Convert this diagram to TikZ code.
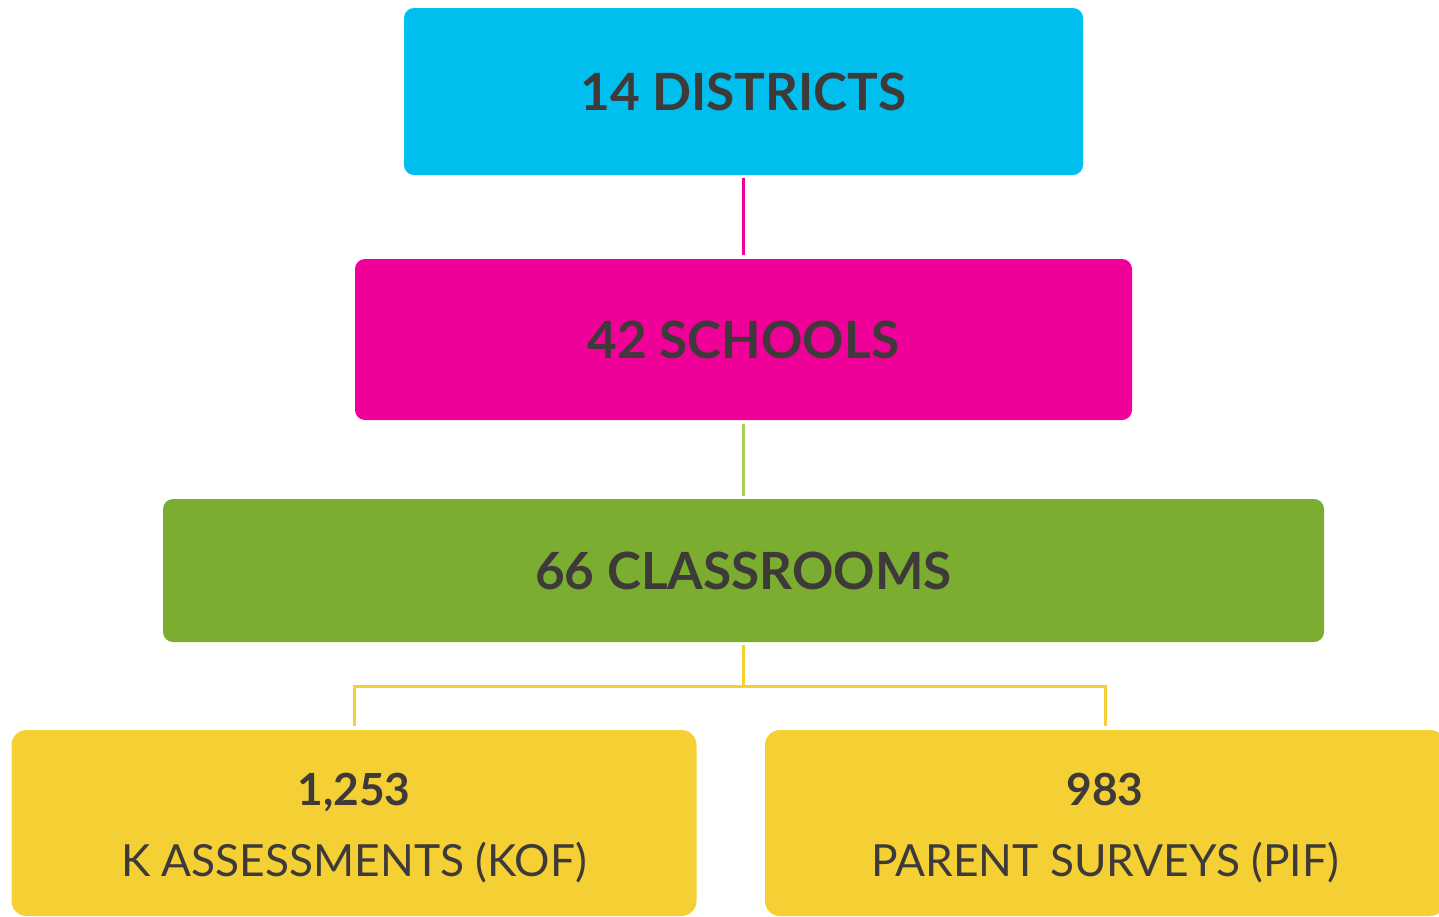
\documentclass[tikz,border=0pt]{standalone}
\usepackage{fontspec}
\setmainfont{Lato}
\usepackage{xcolor}
\usetikzlibrary{positioning, calc}
\definecolor{districtcyan}{RGB}{0,191,239}
\definecolor{schoolpink}{RGB}{238,0,153}
\definecolor{classgreen}{RGB}{123,174,48}
\definecolor{linkgreen}{RGB}{166,208,90}
\definecolor{dataamber}{RGB}{245,208,52}
\definecolor{textgray}{RGB}{62,58,58}

\begin{document}
\begin{tikzpicture}[
    tier/.style={fill=#1, rounded corners=0.2cm, inner sep=0pt, text=textgray, font=\fontsize{29.2}{34}\selectfont\bfseries},
    count/.style={fill=dataamber, rounded corners=0.3cm, inner sep=0pt, text=textgray, align=center, minimum width=13.7cm, minimum height=3.72cm, font=\fontsize{25.2}{40}\selectfont},
    link/.style={draw=#1, line width=0.06cm, shorten <=0.06cm, shorten >=0.08cm}
]
    \useasboundingbox (0,0) rectangle (28.78,-18.32);

    % Tiers
    \node[tier=districtcyan, minimum width=13.58cm, minimum height=3.34cm] (districts) at (14.87,-1.83) {14 DISTRICTS};
    \node[tier=schoolpink, minimum width=15.54cm, minimum height=3.22cm] (schools) at (14.87,-6.79) {42 SCHOOLS};
    \node[tier=classgreen, minimum width=23.22cm, minimum height=2.86cm] (classrooms) at (14.87,-11.41) {66 CLASSROOMS};

    % Collected data
    \node[count] (kof) at (7.08,-16.46) {\rule{0pt}{24pt}\textbf{1,253}\\K ASSESSMENTS (KOF)};
    \node[count, minimum width=13.6cm] (pif) at (22.1,-16.46) {\rule{0pt}{24pt}\textbf{983}\\PARENT SURVEYS (PIF)};

    % Connectors
    \draw[link=schoolpink] (districts) -- (schools);
    \draw[link=linkgreen] (classrooms) -- (schools);
    \coordinate (split) at (14.87,-13.72);
    \draw[link=dataamber, shorten >=0pt] (classrooms) -- (split);
    \draw[link=dataamber, shorten <=0pt, line join=miter] (split) -| (kof);
    \draw[link=dataamber, shorten <=0pt, line join=miter] (split) -| (pif);
\end{tikzpicture}
\end{document}
